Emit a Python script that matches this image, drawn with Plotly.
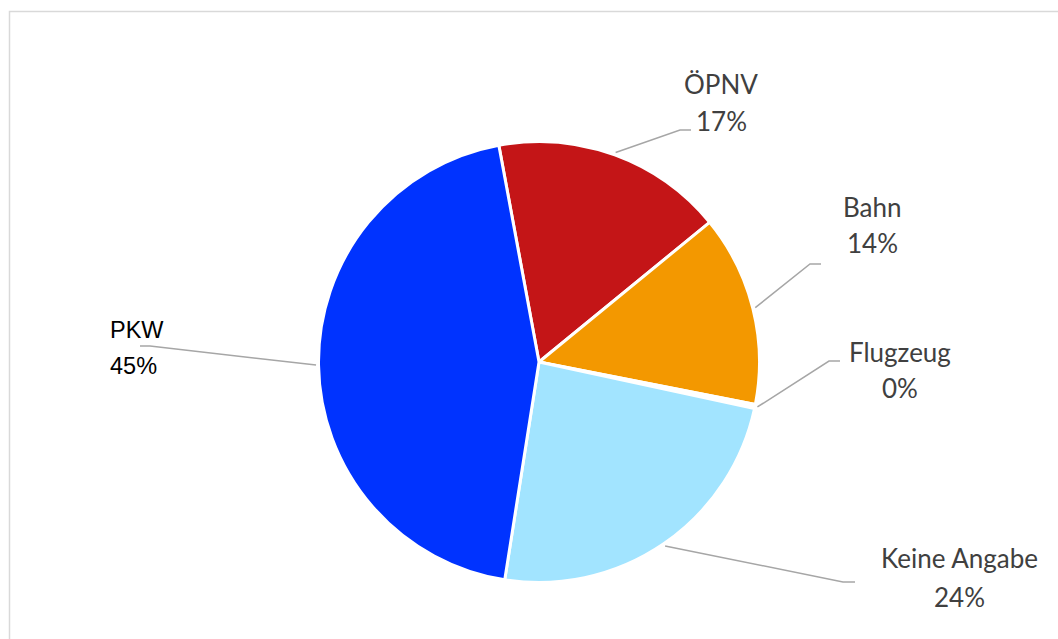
import math
import plotly.graph_objects as go

# Verkehrsmittel (Anteile in %), im Uhrzeigersinn ab dem oberen Rand
labels = ["ÖPNV", "Bahn", "Flugzeug", "Keine Angabe", "PKW"]
values = [17.0, 14.0, 0.3, 24.1, 44.6]
colors = ["#C41517", "#F39800", "#FFFFFF", "#A2E4FF", "#0033FF"]

W, H = 1058, 639
CX, CY, R = 539, 362, 220.5
ROTATION = -10.5

# label placement (pixel centre of the text block, elbow of the leader line)
label_pos = {
    "ÖPNV": dict(x=721, y1=84, y2=121, elbow=(680, 130), end=(691, 130), anchor="center"),
    "Bahn": dict(x=872, y1=207, y2=243, elbow=(810, 264), end=(821, 264), anchor="center"),
    "Flugzeug": dict(x=900, y1=352, y2=388, elbow=(829, 361), end=(840, 361), anchor="center"),
    "Keine Angabe": dict(x=959, y1=558, y2=597, elbow=(843, 582), end=(855, 582), anchor="center"),
    "PKW": dict(x=108, y1=330, y2=366, elbow=(150, 346), end=(140, 346), anchor="left"),
}
label_font = {"PKW": ("Liberation Sans", 23.5, "#000000")}
default_font = ("Lato", 26, "#404040")


def px(x):
    return x / W


def py(y):
    return 1 - y / H


fig = go.Figure(
    go.Pie(
        labels=labels,
        values=values,
        sort=False,
        direction="clockwise",
        rotation=ROTATION,
        marker=dict(colors=colors, line=dict(color="#FFFFFF", width=3)),
        textinfo="none",
        hoverinfo="label+percent",
        showlegend=False,
        domain=dict(x=[px(CX - R), px(CX + R)], y=[py(CY + R), py(CY - R)]),
    )
)

total = sum(values)
shapes = [
    dict(
        type="rect", xref="paper", yref="paper",
        x0=px(9.5), x1=px(W + 20), y0=py(H + 20), y1=py(11.5),
        line=dict(color="#D9D9D9", width=1.5), fillcolor="rgba(0,0,0,0)", layer="below",
    )
]
annotations = []
cum = 0.0
for lab, val in zip(labels, values):
    mid = ROTATION + (cum + val / 2) / total * 360
    cum += val
    a = math.radians(mid)
    sx = CX + (R + 2.5) * math.sin(a)
    sy = CY - (R + 2.5) * math.cos(a)
    p = label_pos[lab]
    ex, ey = p["elbow"]
    tx, ty = p["end"]
    shapes.append(
        dict(
            type="path", xref="paper", yref="paper",
            path=f"M {px(sx)},{py(sy)} L {px(ex)},{py(ey)} L {px(tx)},{py(ty)}",
            line=dict(color="#A6A6A6", width=1.5),
        )
    )
    fam, size, col = label_font.get(lab, default_font)
    pct = f"{round(val / total * 100)}%"
    for txt, yy in ((lab, p["y1"]), (pct, p["y2"])):
        annotations.append(
            dict(
                text=txt, x=px(p["x"]), y=py(yy), xref="paper", yref="paper",
                xanchor=p["anchor"], yanchor="middle", showarrow=False,
                font=dict(family=fam, size=size, color=col),
            )
        )

fig.update_layout(
    width=W, height=H,
    margin=dict(l=0, r=0, t=0, b=0),
    paper_bgcolor="#FFFFFF",
    plot_bgcolor="#FFFFFF",
    shapes=shapes,
    annotations=annotations,
)

fig.write_html("out.html")
